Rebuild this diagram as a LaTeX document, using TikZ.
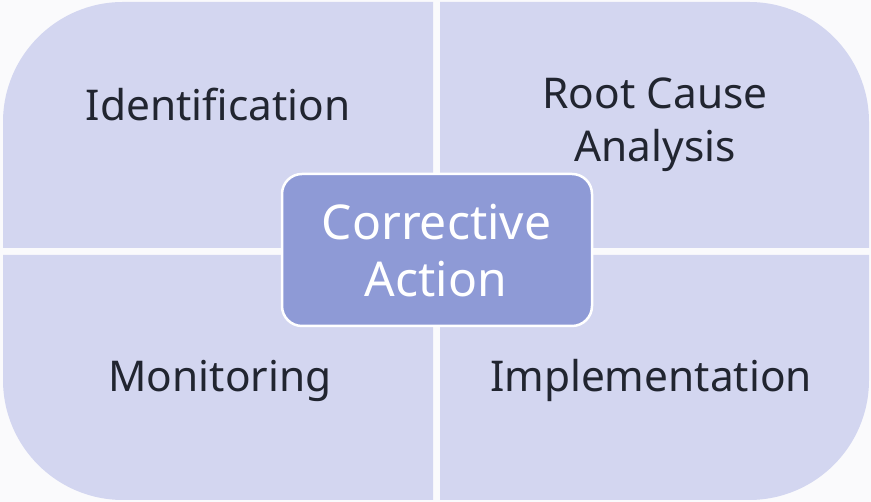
\documentclass[tikz,border=0pt]{standalone}
\usepackage{fontspec}
\setmainfont{Noto Sans}
\definecolor{bgc}{RGB}{250,250,252}
\definecolor{quadc}{RGB}{211,214,240}
\definecolor{corec}{RGB}{142,154,214}
\definecolor{txtc}{RGB}{33,37,48}
\begin{document}
\begin{tikzpicture}[x=1pt,y=1pt,
  quad/.style={fill=quadc},
  lbl/.style={anchor=base, inner sep=0pt, text=txtc, font=\fontsize{42.4}{53}\selectfont},
  corelbl/.style={anchor=base, inner sep=0pt, text=white, font=\fontsize{48}{56}\selectfont},
  corebox/.style={draw=white, line width=2.5pt, fill=corec, rounded corners=20pt,
    minimum width=310pt, minimum height=152pt, inner sep=0pt}]
\useasboundingbox (0,0) rectangle (871,502);
\fill[bgc] (0,0) rectangle (871,502);
% quadrants
\fill[quad] (433,254) -- (3,254) -- (3,380) arc[start angle=180,end angle=90,radius=120] -- (433,500) -- cycle;
\fill[quad] (440,254) -- (440,500) -- (749,500) arc[start angle=90,end angle=0,radius=120] -- (869,254) -- cycle;
\fill[quad] (433,247) -- (3,247) -- (3,122) arc[start angle=180,end angle=270,radius=120] -- (433,2) -- cycle;
\fill[quad] (440,247) -- (440,2) -- (749,2) arc[start angle=270,end angle=360,radius=120] -- (869,247) -- cycle;
% centre
\node[corebox] (core) at (437,252) {};
% labels
\node[lbl] (idn) at (218,381) {Identification};
\node[lbl] (rc1) at (655,393.7) {Root Cause};
\node[lbl] (rc2) at (655,340.3) {Analysis};
\node[lbl] (mon) at (220,110) {Monitoring};
\node[lbl] (imp) at (651,110) {Implementation};
\node[corelbl] (ca1) at (436.5,262) {Corrective};
\node[corelbl] (ca2) at (436,205.3) {Action};
\end{tikzpicture}
\end{document}
